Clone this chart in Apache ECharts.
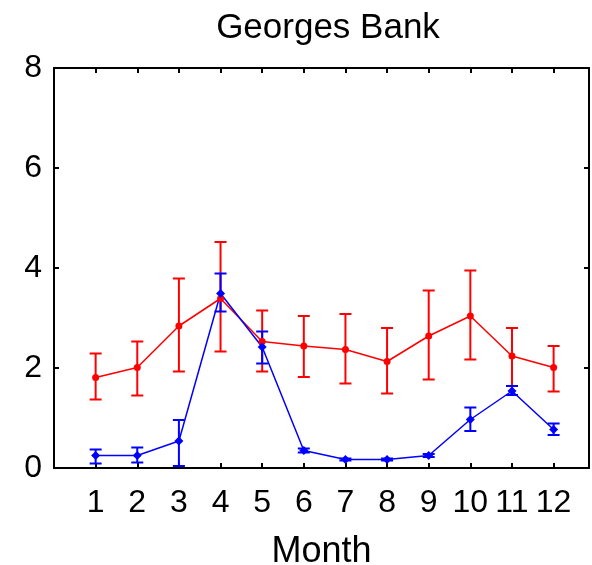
<!DOCTYPE html>
<html>
<head>
<meta charset="utf-8">
<script src="https://cdn.jsdelivr.net/npm/echarts@6/dist/echarts.min.js"></script>
<style>
  html, body { margin: 0; padding: 0; background: #fff; }
  #main { width: 592px; height: 565px; }
</style>
</head>
<body>
<div id="main"></div>
<script>
// monthly means with error bar ends
var months = [1, 2, 3, 4, 5, 6, 7, 8, 9, 10, 11, 12];
var redMean = [1.81, 2.01, 2.84, 3.39, 2.53, 2.44, 2.37, 2.13, 2.64, 3.04, 2.24, 2.01];
var redHigh = [2.29, 2.53, 3.79, 4.52, 3.15, 3.04, 3.08, 2.80, 3.55, 3.95, 2.80, 2.44];
var redLow = [1.37, 1.45, 1.93, 2.33, 1.93, 1.82, 1.69, 1.49, 1.77, 2.17, 1.64, 1.53];
var blueMean = [0.25, 0.25, 0.54, 3.49, 2.42, 0.35, 0.17, 0.17, 0.25, 0.97, 1.54, 0.77];
var blueHigh = [0.37, 0.41, 0.96, 3.89, 2.73, 0.39, 0.19, 0.19, 0.28, 1.21, 1.64, 0.89];
var blueLow = [0.09, 0.11, 0.04, 3.13, 2.09, 0.31, 0.15, 0.15, 0.22, 0.74, 1.46, 0.66];
var yTicks = [0, 2, 4, 6, 8];

var font = 'Liberation Sans';

function pairs(ys) {
    return months.map(function (m, i) { return [m, ys[i]]; });
}
function bars(lo, hi) {
    return months.map(function (m, i) { return [m, lo[i], hi[i]]; });
}

function errorBar(color) {
    return function (params, api) {
        var x = api.value(0);
        var lo = api.coord([x, api.value(1)]);
        var hi = api.coord([x, api.value(2)]);
        var w = 6;
        var st = { stroke: color, lineWidth: 2 };
        return {
            type: 'group',
            children: [
                { type: 'line', shape: { x1: lo[0], y1: lo[1], x2: hi[0], y2: hi[1] }, style: st },
                { type: 'line', shape: { x1: lo[0] - w, y1: lo[1], x2: lo[0] + w, y2: lo[1] }, style: st },
                { type: 'line', shape: { x1: hi[0] - w, y1: hi[1], x2: hi[0] + w, y2: hi[1] }, style: st }
            ]
        };
    };
}

var myChart = echarts.init(document.getElementById('main'));

var boxLine = { show: true, onZero: false, lineStyle: { color: '#000', width: 2 } };
var inTick = { show: true, inside: true, length: 5, lineStyle: { color: '#000', width: 2 } };

var option = {
    backgroundColor: '#fff',
    animation: false,
    title: {
        text: 'Georges Bank',
        left: 323,
        top: 6,
        textAlign: 'center',
        textStyle: { fontFamily: font, fontSize: 35, fontWeight: 'normal', color: '#000' }
    },
    grid: { left: 54, right: 3, top: 68, bottom: 97, containLabel: false, outerBoundsMode: 'none' },
    xAxis: [{
        type: 'value',
        min: 0,
        max: 12.85,
        interval: 1,
        name: 'Month',
        nameLocation: 'middle',
        nameGap: 66,
        nameTextStyle: { fontFamily: font, fontSize: 36, color: '#000' },
        axisLine: boxLine,
        axisTick: inTick,
        splitLine: { show: false },
        axisLabel: {
            margin: 19,
            fontFamily: font, fontSize: 32, color: '#000',
            formatter: function (v) { return (v >= 1 && v <= 12) ? String(v) : ''; }
        }
    }, {
        type: 'value',
        position: 'top',
        min: 0,
        max: 12.85,
        interval: 1,
        axisLine: boxLine,
        axisTick: inTick,
        axisLabel: { show: false },
        splitLine: { show: false }
    }],
    yAxis: [{
        type: 'value',
        min: yTicks[0],
        max: yTicks[yTicks.length - 1],
        interval: 2,
        axisLine: boxLine,
        axisTick: inTick,
        splitLine: { show: false },
        axisLabel: { margin: 12, fontFamily: font, fontSize: 32, color: '#000' }
    }, {
        type: 'value',
        position: 'right',
        min: yTicks[0],
        max: yTicks[yTicks.length - 1],
        interval: 2,
        axisLine: boxLine,
        axisTick: inTick,
        axisLabel: { show: false },
        splitLine: { show: false }
    }],
    series: [{
        type: 'custom',
        renderItem: errorBar('#ff0000'),
        data: bars(redLow, redHigh),
        z: 2
    }, {
        type: 'custom',
        renderItem: errorBar('#0000ff'),
        data: bars(blueLow, blueHigh),
        z: 2
    }, {
        type: 'line',
        data: pairs(redMean),
        symbol: 'circle',
        symbolSize: 7,
        itemStyle: { color: '#ff0000' },
        lineStyle: { color: '#ff0000', width: 1.5 },
        z: 3
    }, {
        type: 'line',
        data: pairs(blueMean),
        symbol: 'diamond',
        symbolSize: 9,
        itemStyle: { color: '#0000ff' },
        lineStyle: { color: '#0000ff', width: 1.5 },
        z: 3
    }]
};

myChart.setOption(option, true);
window.addEventListener('resize', function () {
    myChart.resize();
});
</script>
</body>
</html>
